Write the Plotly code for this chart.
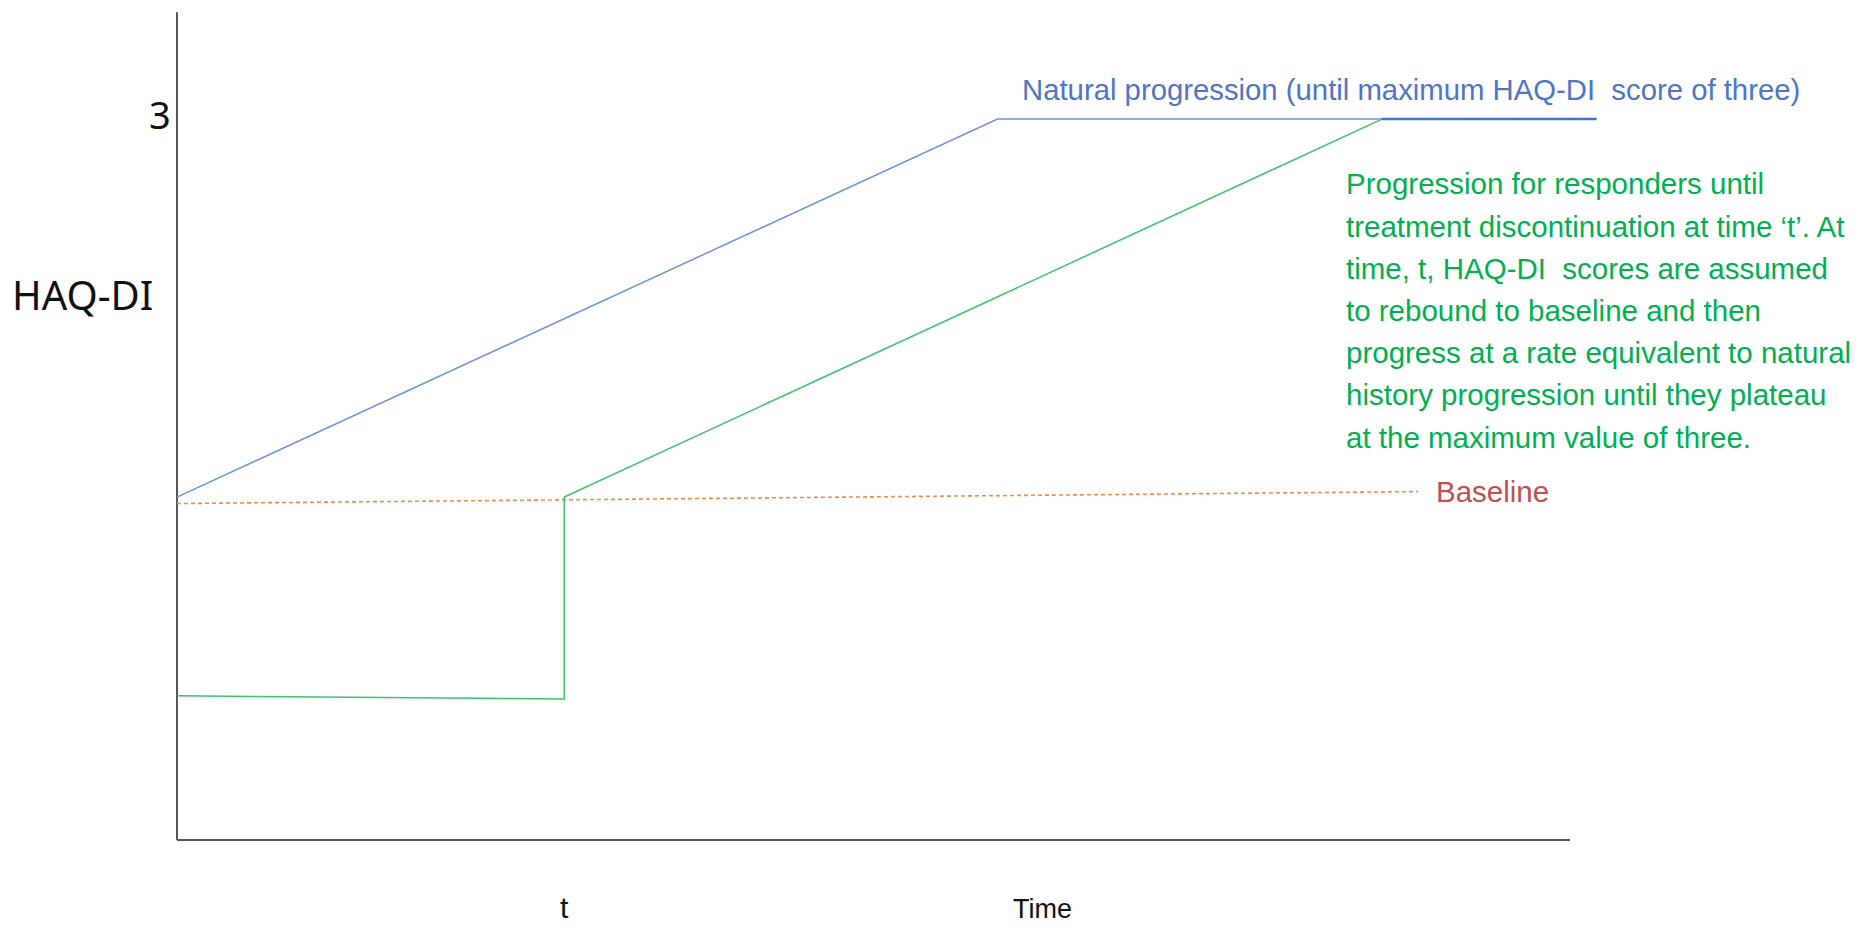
import plotly.graph_objects as go

# ---- data (schematic model of HAQ-DI over time) ----
natural_x = [0.0, 5.89, 10.19]
natural_y = [1.427, 3.0, 3.0]

responder_x = [0.0, 2.78, 2.78, 8.65]
responder_y = [0.60, 0.587, 1.427, 3.0]

plateau_x = [8.65, 10.19]
plateau_y = [3.0, 3.0]

baseline_x = [0.0, 8.91]
baseline_y = [1.40, 1.45]

t_value = 2.78
y_tick_vals = [3]
y_tick_text = ["3"]

x_axis_end = 10.0
y_axis_top = 3.445

responder_note = [
    "Progression for responders until",
    "treatment discontinuation at time \u2018t\u2019. At",
    "time, t, HAQ-DI  scores are assumed",
    "to rebound to baseline and then",
    "progress at a rate equivalent to natural",
    "history progression until they plateau",
    "at the maximum value of three.",
]

narrow = "Liberation Sans Narrow, Arial Narrow, Liberation Sans, Arial, sans-serif"
plain = "Noto Sans, Liberation Sans, sans-serif"

X_RANGE = [-1.213, 12.060]
Y_RANGE = [-0.3579, 3.4623]

fig = go.Figure()

# axes lines
fig.add_trace(go.Scatter(x=[0, 0], y=[0, y_axis_top], mode="lines",
                         line=dict(color="#222222", width=1.5), hoverinfo="skip", showlegend=False))
fig.add_trace(go.Scatter(x=[0, x_axis_end], y=[0, 0], mode="lines",
                         line=dict(color="#555555", width=2), hoverinfo="skip", showlegend=False))

fig.add_trace(go.Scatter(x=baseline_x, y=baseline_y, mode="lines",
                         line=dict(color="#F08A4B", width=1.6, dash="4px,3px"), showlegend=False))
fig.add_trace(go.Scatter(x=natural_x, y=natural_y, mode="lines",
                         line=dict(color="#7092D8", width=1.5), showlegend=False))
fig.add_trace(go.Scatter(x=responder_x, y=responder_y, mode="lines",
                         line=dict(color="#3CC46A", width=1.5), showlegend=False))
fig.add_trace(go.Scatter(x=plateau_x, y=plateau_y, mode="lines",
                         line=dict(color="#4472C4", width=2.5), showlegend=False))

annotations = [
    dict(x=-0.03, y=y_tick_vals[0] + 0.02, text=y_tick_text[0], xanchor="right", yanchor="middle",
         font=dict(family=plain, size=38, color="#111111")),
    dict(x=-0.675, y=2.268, text="HAQ-DI", xanchor="center", yanchor="middle",
         font=dict(family=plain, size=40, color="#111111")),
    dict(x=6.05, y=3.125, text="Natural progression (until maximum HAQ-DI  score of three)",
         xanchor="left", yanchor="middle", font=dict(family=narrow, size=29.3, color="#4F76C4")),
    dict(x=9.02, y=1.452, text="Baseline", xanchor="left", yanchor="middle",
         font=dict(family=narrow, size=29.5, color="#C0504D")),
    dict(x=t_value, y=Y_RANGE[0] + 0.003, text="t", xanchor="center", yanchor="bottom",
         borderpad=0, font=dict(family=narrow, size=30, color="#111111")),
    dict(x=6.21, y=Y_RANGE[0] + 0.003, text="Time", xanchor="center", yanchor="bottom",
         borderpad=0, font=dict(family=narrow, size=27, color="#111111")),
]
note_top = 2.730
note_gap = 0.1755
for i, line in enumerate(responder_note):
    annotations.append(dict(x=8.38, y=note_top - i * note_gap, text=line,
                            xanchor="left", yanchor="middle",
                            font=dict(family=narrow, size=29.5, color="#00B050")))
for a in annotations:
    a.update(xref="x", yref="y", showarrow=False)

fig.update_layout(
    width=1849, height=918,
    margin=dict(l=0, r=0, t=0, b=0),
    paper_bgcolor="white", plot_bgcolor="white",
    xaxis=dict(range=X_RANGE, visible=False, fixedrange=True),
    yaxis=dict(range=Y_RANGE, visible=False, fixedrange=True),
    annotations=annotations,
    showlegend=False,
)

fig.write_html("out.html")
